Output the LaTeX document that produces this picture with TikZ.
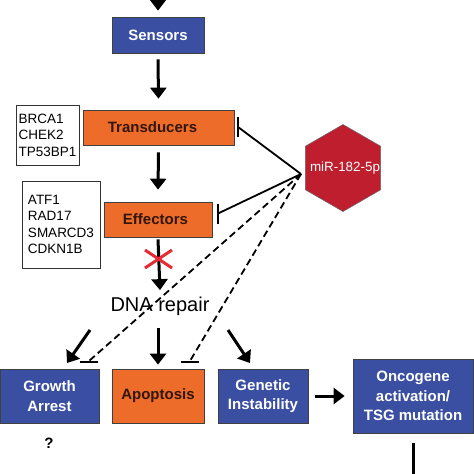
\documentclass[tikz,border=0pt]{standalone}
\usepackage{fontspec}
\setmainfont{Liberation Sans}
\usetikzlibrary{arrows.meta,shapes.geometric}
\definecolor{bluec}{RGB}{58,78,162}
\definecolor{orc}{RGB}{238,108,42}
\definecolor{ortext}{RGB}{50,22,10}
\definecolor{hexc}{RGB}{190,30,45}
\definecolor{xred}{RGB}{232,42,52}
\begin{document}
\begin{tikzpicture}[x=1pt,y=-1pt,
  box/.style={draw=black!75, line width=0.7pt, inner sep=0pt, align=center,
    font=\bfseries\fontsize{15}{19.5}\selectfont},
  bluebox/.style={box, fill=bluec, text=white},
  orbox/.style={box, fill=orc, text=ortext},
  genes/.style={draw=black!80, line width=0.6pt, inner sep=0pt, align=left,
    font=\fontsize{13.5}{16.4}\selectfont},
  arr/.style={line width=3pt, -{Triangle[length=11pt,width=16pt]}},
  inh/.style={line width=1.8pt},
  dinh/.style={line width=1.8pt, dash pattern=on 7pt off 4pt},
  barline/.style={line width=1.8pt}
]
\useasboundingbox (0,0) rectangle (474,474);
\clip (0,0) rectangle (474,474);

% boxes
\node[bluebox, minimum width=92pt, minimum height=36pt] (sens) at (158,35) {Sensors};
\node[orbox, minimum width=151pt, minimum height=35pt] (trans) at (158.5,127.5) {Transducers\hspace{12pt}};
\node[orbox, minimum width=108pt, minimum height=35pt] (eff) at (158,219.5) {Effectors\hspace{5pt}};
\node[genes, minimum width=63pt, minimum height=60pt] (g1) at (47.5,135) {BRCA1\\CHEK2\\TP53BP1};
\node[genes, minimum width=78pt, minimum height=87pt] (g2) at (61,224.5) {ATF1\\RAD17\\SMARCD3\\CDKN1B};
\node[regular polygon, regular polygon sides=6, shape border rotate=90, fill=hexc,
  draw=black!60, line width=0.5pt, minimum size=87pt, inner sep=0pt] (hex) at (343,168) {};
\node[text=white, font=\fontsize{13.4}{16}\selectfont] (mir) at (345,168) {miR-182-5p};
\node[font=\fontsize{20}{24}\selectfont] (dna) at (160,306) {DNA repair};
\node[bluebox, minimum width=99pt, minimum height=54pt] (grow) at (49.5,396) {Growth\\Arrest};
\node[orbox, minimum width=92pt, minimum height=54pt] (apop) at (158,396) {Apoptosis};
\node[bluebox, minimum width=90pt, minimum height=54pt] (gen) at (263,396) {Genetic\\Instability};
\node[bluebox, minimum width=120pt, minimum height=74pt] (onc) at (413,396) {Oncogene\\activation/\\TSG mutation};
\node[font=\bfseries\fontsize{15}{18}\selectfont] (q) at (49,443) {?};

% coordinates
\coordinate (top) at (158,-6);
\coordinate (src) at (301,174);
\coordinate (b1) at (238,127);
\coordinate (b2) at (218,213.5);
\coordinate (b3) at (89,361);
\coordinate (b4) at (190,361);
\coordinate (dl) at (90,330);
\coordinate (dr) at (228,330);
\coordinate (dm) at (158,328);
\coordinate (gl) at (67,363);
\coordinate (gr) at (250,363);
\coordinate (ob) at (413,480);

% vertical arrows (yshift is in page direction: positive = up)
\draw[arr] (top) -- ([yshift=6pt]sens.north);
\draw[arr] ([yshift=-6pt]sens.south) -- ([yshift=11pt]trans.north);
\draw[arr] ([yshift=-7pt]trans.south) -- ([yshift=12pt]eff.north);
\draw[arr] ([yshift=-2pt]eff.south) -- ([yshift=3pt]dna.north);
\draw[arr] (dm) -- ([yshift=4pt]apop.north);
\draw[arr] (dl) -- (gl);
\draw[arr] (dr) -- (gr);
\draw[arr] ([xshift=7pt]gen.east) -- ([xshift=-8pt]onc.west);
\draw[line width=3pt] ([yshift=-10pt]onc.south) -- (ob);

% red cross
\draw[xred, line width=3pt] (145,250) -- (172,268) (145,268) -- (172,250);

% inhibitions
\draw[inh] (src) -- (b1);
\draw[barline] ([yshift=-10pt]b1) -- ([yshift=10pt]b1);
\draw[inh] (src) -- (b2);
\draw[barline] ([yshift=-10pt]b2) -- ([yshift=10pt]b2);
\draw[dinh] (src) -- (b3);
\draw[barline] ([xshift=-9pt,yshift=-1pt]b3) -- ([xshift=9pt,yshift=-1pt]b3);
\draw[dinh] (src) -- (b4);
\draw[barline] ([xshift=-9pt,yshift=-1pt]b4) -- ([xshift=9pt,yshift=-1pt]b4);
\end{tikzpicture}
\end{document}
